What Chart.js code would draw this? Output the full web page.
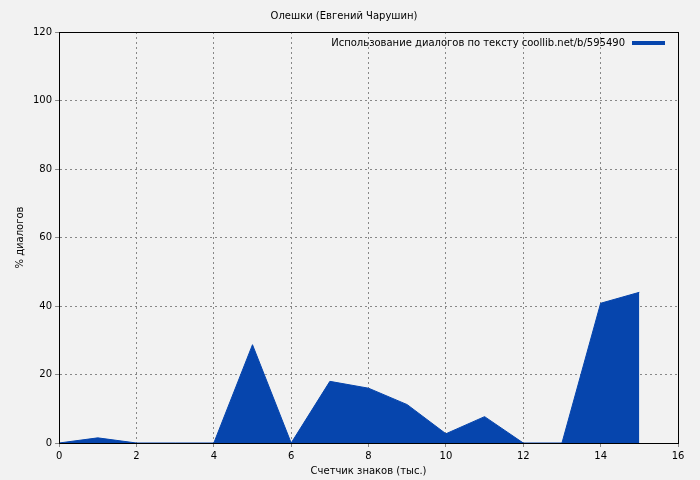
<!DOCTYPE html>
<html><head><meta charset="utf-8">
<script src="https://cdn.jsdelivr.net/npm/chart.js@4"></script>
<style>html,body{margin:0;background:#f2f2f2}#w{width:700px;height:480px}</style>
</head><body><div id="w"><canvas id="c"></canvas></div>
<script>
const xs=[0,1,2,3,4,5,6,7,8,9,10,11,12,13,14,15];
const ys=[0,1.5,0,0,0,28.7,0,18,16,11.2,2.7,7.7,0,0,40.8,44];
const title='Олешки (Евгений Чарушин)';
const seriesLabel='Использование диалогов по тексту coollib.net/b/595490';
const xTitle='Счетчик знаков (тыс.)';
const yTitle='% диалогов';
const col='#0645ad';
const font={family:'DejaVu Sans',size:10};
const legendPlugin={id:'lg',afterDraw(ch){const c=ch.ctx,a=ch.chartArea;c.save();c.strokeStyle='#000';c.lineWidth=1;c.strokeRect(Math.round(a.left)+0.5,Math.round(a.top)+0.5,Math.round(a.right-a.left),Math.round(a.bottom-a.top));c.font='10px DejaVu Sans';c.fillStyle='#000';c.textAlign='right';c.textBaseline='middle';c.fillText(seriesLabel,a.right-53,43);c.fillStyle=col;c.fillRect(a.right-46,41,33,4);c.restore();}};
const bg={id:'bg',beforeDraw(ch){ch.ctx.fillStyle='#f2f2f2';ch.ctx.fillRect(0,0,ch.width,ch.height);}};
new Chart(document.getElementById('c'),{type:'line',
data:{datasets:[{data:xs.map((x,i)=>({x,y:ys[i]})),borderColor:col,backgroundColor:col,fill:'origin',pointRadius:0,borderWidth:1,tension:0}]},
options:{responsive:true,maintainAspectRatio:false,animation:false,
layout:{padding:{left:10,right:22,top:0,bottom:3}},
plugins:{legend:{display:false},tooltip:{enabled:false},title:{display:true,text:title,color:'#000',font:{family:'DejaVu Sans',size:10,weight:'normal'},padding:{top:10,bottom:10}}},
scales:{x:{type:'linear',min:0,max:16,ticks:{stepSize:2,color:'#000',font},title:{display:true,text:xTitle,color:'#000',font,padding:0},grid:{color:'#888',tickLength:4},border:{color:'#000',dash:[2,3]}},
y:{min:0,max:120,ticks:{stepSize:20,color:'#000',font},title:{display:true,text:yTitle,color:'#000',font},grid:{color:'#888',tickLength:4},border:{color:'#000',dash:[2,3]}}}},
plugins:[bg,legendPlugin]});
</script></body></html>
